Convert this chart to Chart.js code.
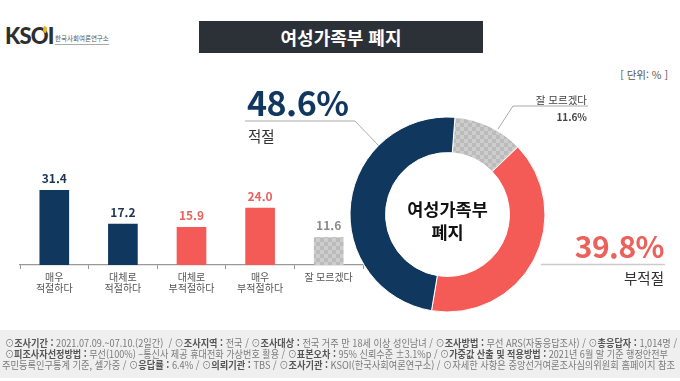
<!DOCTYPE html>
<html lang="ko"><head><meta charset="utf-8">
<script src="https://cdn.jsdelivr.net/npm/chart.js@4.4.1/dist/chart.umd.min.js"></script>
<style>
html,body{margin:0;padding:0;background:#fff;}
body{width:680px;height:381px;position:relative;overflow:hidden;font-family:"Noto Sans CJK KR","Noto Sans",sans-serif;}
.abs{position:absolute;white-space:nowrap;}
#title{left:199px;top:21px;width:284px;height:32px;background:#2b3137;color:#fff;font-weight:700;font-size:18px;line-height:32px;text-align:center;}
#unit{right:12px;top:68px;font-size:10.5px;line-height:14px;color:#555;}
#logo{left:5px;top:23px;font-family:Lato,"Open Sans",sans-serif;font-weight:900;font-size:22px;line-height:25px;color:#2e2e2e;letter-spacing:-0.8px;}
#logoLeaf{left:43px;top:26px;width:4px;height:7px;background:#f0b323;border-radius:0 4px 0 4px;transform:skewX(-15deg);}
#logoSub{left:55px;top:34px;font-size:6.5px;line-height:9px;color:#555;border-bottom:1px solid #aaa;padding-bottom:1px;}
#barWrap{left:0;top:150px;width:370px;height:150px;}
#donutWrap{left:340px;top:107px;width:215px;height:215px;}
svg{position:absolute;left:0;top:0;}
.big{font-weight:700;letter-spacing:-0.5px;}
#pctOk{left:247px;font-size:34px;line-height:34px;top:85px;color:#12375f;}
#lblOk{left:248px;font-size:14.5px;line-height:15px;top:128px;color:#333;}
#pctNo{right:16px;font-size:30px;line-height:30px;top:230px;color:#ec615c;}
#lblNo{right:16px;font-size:14.5px;line-height:15px;top:270px;color:#333;}
#lblDk{right:93px;top:93px;font-size:10.5px;line-height:13px;color:#444;}
#pctDk{right:93px;top:110px;font-size:10px;line-height:13px;color:#444;font-weight:700;}
#center{left:382px;width:131px;top:197px;font-size:17.5px;line-height:23px;font-weight:700;color:#111;text-align:center;white-space:normal;}
#foot{left:0;top:330px;width:680px;height:48px;background:#efefef;}
.fl{position:absolute;white-space:nowrap;font-size:10px;line-height:11px;color:#7a7a7a;transform-origin:0 0;display:inline-block;}
.fl b{color:#555;font-weight:700;}
</style></head><body>

<div id="logo" class="abs">KSOI</div>
<div id="logoLeaf" class="abs"></div>
<div id="logoSub" class="abs">한국사회여론연구소</div>
<div id="title" class="abs">여성가족부 폐지</div>
<div id="unit" class="abs">[ 단위: % ]</div>

<div id="barWrap" class="abs"><canvas id="bar" width="370" height="150"></canvas></div>

<svg width="680" height="381">
  <polyline points="245,121 355,121 379,146" fill="none" stroke="#aaa" stroke-width="1"/>
  <polyline points="498,129 513,106 588,106" fill="none" stroke="#aaa" stroke-width="1"/>
  <line x1="541" y1="264.5" x2="665" y2="264.5" stroke="#ccc" stroke-width="1.5"/>
</svg>

<div id="donutWrap" class="abs"><canvas id="donut" width="215" height="215"></canvas></div>

<div id="pctOk" class="abs big"></div>
<div id="lblOk" class="abs"></div>
<div id="pctNo" class="abs big"></div>
<div id="lblNo" class="abs"></div>
<div id="lblDk" class="abs"></div>
<div id="pctDk" class="abs"></div>
<div id="center" class="abs">여성가족부<br>폐지</div>

<div id="foot" class="abs">
  <div class="fl" data-w="672" style="left:5px;top:6.5px;">⊙<b>조사기간 :</b> 2021.07.09.~07.10.(2일간)&nbsp; / ⊙<b>조사지역 :</b> 전국 / ⊙<b>조사대상 :</b> 전국 거주 만 18세 이상 성인남녀 / ⊙<b>조사방법 :</b> 무선 ARS(자동응답조사) / ⊙<b>총응답자 :</b> 1,014명 /</div>
  <div class="fl" data-w="663" style="left:5px;top:17.5px;">⊙<b>피조사자선정방법 :</b> 무선(100%) –통신사 제공 휴대전화 가상번호 활용 / ⊙<b>표본오차 :</b> 95% 신뢰수준 ±3.1%p / ⊙<b>가중값 산출 및 적용방법 :</b> 2021년 6월 말 기준 행정안전부</div>
  <div class="fl" data-w="673" style="left:2px;top:28.5px;">주민등록인구통계 기준, 셀가중 / ⊙<b>응답률 :</b> 6.4% / ⊙<b>의뢰기관 :</b> TBS / ⊙<b>조사기관 :</b> KSOI(한국사회여론연구소) / ⊙자세한 사항은 중앙선거여론조사심의위원회 홈페이지 참조</div>
</div>

<script>
// ---- data ----
const barCategories = [['매우','적절하다'],['대체로','적절하다'],['대체로','부적절하다'],['매우','부적절하다'],'잘 모르겠다'];
const barValues = [31.4, 17.2, 15.9, 24.0, 11.6];
const donutLabels = ['잘 모르겠다', '부적절', '적절'];
const donutValues = [11.6, 39.8, 48.6];

// ---- styles ----
const NAVY = '#10385f', RED = '#f55b56';
function checker(){
  const c = document.createElement('canvas'); c.width = 8; c.height = 8;
  const g = c.getContext('2d');
  g.fillStyle = '#cdcdcd'; g.fillRect(0,0,8,8);
  g.fillStyle = '#bbbbbb'; g.fillRect(0,0,4,4); g.fillRect(4,4,4,4);
  return g.createPattern(c, 'repeat');
}
const GRAYPAT = checker();
const barColors = [NAVY, NAVY, RED, RED, GRAYPAT];
const labelColors = ['#1c3556', '#1c3556', '#e8625f', '#e8625f', '#8a8a8a'];
const FONT = '"Noto Sans CJK KR","Noto Sans",sans-serif';

const valueLabelPlugin = {
  id: 'valueLabels',
  afterDatasetsDraw(chart){
    const ctx = chart.ctx, meta = chart.getDatasetMeta(0);
    ctx.save();
    ctx.font = 'bold 12px ' + FONT;
    ctx.textAlign = 'center'; ctx.textBaseline = 'alphabetic';
    meta.data.forEach((bar, i) => {
      ctx.fillStyle = labelColors[i];
      ctx.fillText(barValues[i].toFixed(1), bar.x, bar.y - 7);
    });
    ctx.restore();
  }
};

new Chart(document.getElementById('bar'), {
  type: 'bar',
  data: { labels: barCategories, datasets: [{ data: barValues, backgroundColor: barColors, barThickness: 29 }] },
  options: {
    responsive: false, animation: false,
    layout: { padding: { left: 20, right: 7, top: 20, bottom: 0 } },
    plugins: { legend: { display: false }, tooltip: { enabled: false } },
    scales: {
      x: {
        offset: true,
        grid: { offset: true, drawOnChartArea: false, drawTicks: true, tickLength: 4, color: '#999' },
        border: { display: true, color: '#999', width: 1.2 },
        ticks: { color: '#555', font: { size: 10, family: FONT, lineHeight: 1.1 }, padding: 3, maxRotation: 0, autoSkip: false },
        afterFit: s => { s.height = 35; }
      },
      y: { display: false, min: 0, max: 40 }
    }
  },
  plugins: [valueLabelPlugin]
});

new Chart(document.getElementById('donut'), {
  type: 'doughnut',
  data: { labels: donutLabels, datasets: [{ data: donutValues, backgroundColor: [GRAYPAT, RED, NAVY], borderColor: '#fff', borderWidth: 1, hoverOffset: 0 }] },
  options: {
    responsive: false, animation: false,
    radius: 97.5, cutout: 68, rotation: 4.4,
    layout: { padding: 0 },
    plugins: { legend: { display: false }, tooltip: { enabled: false } }
  }
});

// ---- annotation texts from data ----
document.getElementById('pctOk').textContent = donutValues[2].toFixed(1) + '%';
document.getElementById('lblOk').textContent = donutLabels[2];
document.getElementById('pctNo').textContent = donutValues[1].toFixed(1) + '%';
document.getElementById('lblNo').textContent = donutLabels[1];
document.getElementById('lblDk').textContent = donutLabels[0];
document.getElementById('pctDk').textContent = donutValues[0].toFixed(1) + '%';

function fitFoot(){
  document.querySelectorAll('.fl').forEach(el => {
    el.style.transform = 'none';
    const w = el.getBoundingClientRect().width;
    el.style.transform = 'scaleX(' + (parseFloat(el.dataset.w) / w) + ')';
  });
}
fitFoot();
if (document.fonts && document.fonts.ready) document.fonts.ready.then(fitFoot);
</script>
</body></html>
